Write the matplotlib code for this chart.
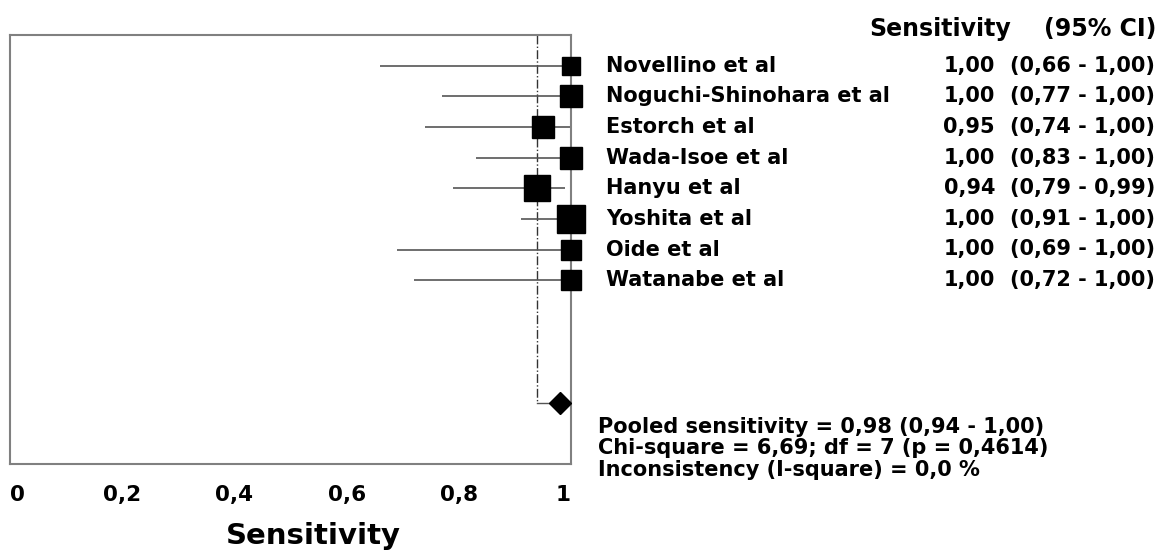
import matplotlib
matplotlib.use("Agg")
import matplotlib.pyplot as plt
import matplotlib.transforms as mtransforms

# ---- data ----
studies = ["Novellino et al", "Noguchi-Shinohara et al", "Estorch et al", "Wada-Isoe et al",
           "Hanyu et al", "Yoshita et al", "Oide et al", "Watanabe et al"]
sens = [1.00, 1.00, 0.95, 1.00, 0.94, 1.00, 1.00, 1.00]
ci_low = [0.66, 0.77, 0.74, 0.83, 0.79, 0.91, 0.69, 0.72]
ci_high = [1.00, 1.00, 1.00, 1.00, 0.99, 1.00, 1.00, 1.00]
weights = [18, 22, 23, 23, 27, 28, 20, 20]  # relative square sizes
pooled = 0.98
pooled_low = 0.94
pooled_high = 1.00
stats_lines = ["Pooled sensitivity = 0,98 (0,94 - 1,00)",
               "Chi-square = 6,69; df = 7 (p = 0,4614)",
               "Inconsistency (I-square) = 0,0 %"]
xticks = [0, 0.2, 0.4, 0.6, 0.8, 1.0]
xticklabels = ["0", "0,2", "0,4", "0,6", "0,8", "1"]

def fmt(v):
    return f"{v:.2f}".replace(".", ",")

plt.rcParams['font.family'] = ['DejaVu Sans']
W, H = 1157, 553
fig = plt.figure(figsize=(W / 100, H / 100), dpi=100)
ax = fig.add_axes([10 / W, 1 - 464 / H, 561 / W, 429 / H])
ax.set_xlim(0, 1)
ax.set_ylim(13, -1)

pooled_row = 11

# CI lines and squares
for i, (s, lo, hi, w) in enumerate(zip(sens, ci_low, ci_high, weights)):
    ax.plot([lo, hi], [i, i], color="#555555", lw=1.2, zorder=2, solid_capstyle='butt')
    ax.plot([s], [i], marker='s', color='black', markersize=w * 0.72, zorder=4,
            linestyle='none', clip_on=False)

# reference lines
ax.plot([pooled_high, pooled_high], [-1, 13], color="#888888", lw=1.3, ls=(0, (4, 2)), zorder=1)
ax.plot([pooled_low, pooled_low], [-1, pooled_row], color="#333333", lw=1.0, ls='-.', zorder=1)
ax.plot([pooled_low, pooled], [pooled_row, pooled_row], color="#555555", lw=1.0, zorder=1)
ax.plot([pooled], [pooled_row], marker='D', color='black', markersize=16 * 0.72, zorder=4,
        linestyle='none', clip_on=False)

for sp in ax.spines.values():
    sp.set_color("#808080")
    sp.set_linewidth(1.5)
ax.set_yticks([])
ax.set_xticks(xticks)
ax.set_xticklabels(xticklabels, fontsize=15.5, fontweight='bold')
ax.tick_params(axis='x', length=0, pad=15)
labs = ax.get_xticklabels()
labs[0].set_ha('left')
labs[-1].set_ha('right')
ax.set_xlabel("Sensitivity", fontsize=21, fontweight='bold')
ax.xaxis.label.set_va('center')
ax.xaxis.set_label_coords((313 - 10) / 561, -(536 - 464) / 429)

tr = mtransforms.blended_transform_factory(fig.transFigure, ax.transData)
fs = 15
for i, name in enumerate(studies):
    ax.text(606 / W, i, name, transform=tr, ha='left', va='center', fontsize=fs, fontweight='bold')
    ax.text(995 / W, i, fmt(sens[i]), transform=tr, ha='right', va='center', fontsize=fs, fontweight='bold')
    ax.text(1155 / W, i, f"({fmt(ci_low[i])} - {fmt(ci_high[i])})", transform=tr, ha='right',
            va='center', fontsize=fs, fontweight='bold')

fig.text(869 / W, 1 - 29 / H, "Sensitivity", ha='left', va='center', fontsize=17, fontweight='bold')
fig.text(1156 / W, 1 - 29 / H, "(95% CI)", ha='right', va='center', fontsize=17, fontweight='bold')

for k, line in enumerate(stats_lines):
    fig.text(598 / W, 1 - (427 + 21.5 * k) / H, line, ha='left', va='center', fontsize=fs, fontweight='bold')

fig.savefig("out.png", dpi=100, facecolor='white')
